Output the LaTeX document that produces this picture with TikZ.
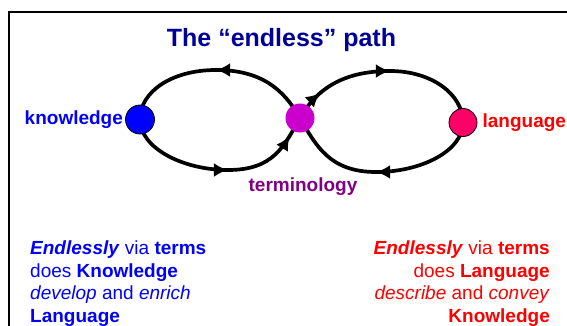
\documentclass[tikz,border=0pt]{standalone}
\usepackage{fontspec}
\setmainfont{Liberation Sans}
\usetikzlibrary{arrows.meta,positioning,calc,backgrounds,decorations.markings}
\definecolor{titleblue}{RGB}{0,0,153}
\definecolor{knowblue}{RGB}{0,0,255}
\definecolor{termdot}{RGB}{204,0,204}
\definecolor{termtext}{RGB}{128,0,128}
\definecolor{langdot}{RGB}{255,0,102}
\definecolor{langred}{RGB}{255,0,0}
\tikzset{
  ball/.style={circle,minimum size=#1,inner sep=0pt},
  txt/.style={font=\fontsize{19}{23}\selectfont},
  lbl/.style={font=\fontsize{19}{23}\selectfont\bfseries},
  loopline/.style={line width=3.7pt},
  tipat/.style={postaction={decorate,decoration={markings,
    mark=at position #1 with {\arrow{Latex[length=14pt,width=14pt]}}}}}
}

\begin{document}
\begin{tikzpicture}[x=1pt,y=1pt]
    \useasboundingbox (0,0) rectangle (567,-326);
    \draw[line width=2pt] (9,-330) -- (9,-12) -- (570,-12);
    \node[font=\fontsize{25}{30}\selectfont\bfseries,text=titleblue,anchor=base] (title) at (281.5,-47) {The “endless” path};

    \node[ball=29pt,fill=knowblue,draw=black,line width=0.8pt] (know) at (140,-119.5) {};
    \node[ball=29pt,fill=termdot] (term) at (300,-118) {};
    \node[ball=28pt,fill=langdot,draw=black,line width=0.8pt] (lang) at (463,-122.5) {};

    \node[lbl,text=knowblue,anchor=east,inner sep=1pt] (knowlabel) at ([xshift=-1pt]know.west) {knowledge};
    \node[lbl,text=langred,anchor=west,inner sep=1pt] (langlabel) at ([xshift=4pt]lang.east) {language};
    \node[lbl,text=termtext,anchor=base] (termlabel) at (303,-191) {terminology};

    \begin{scope}[on background layer]
      \coordinate (lt) at (216,-70);
      \coordinate (lb) at (228,-170);
      \coordinate (rt) at (390,-71);
      \coordinate (rb) at (376,-172);
      \draw[loopline,tipat=0.999] (know.center) .. controls +(0,-28) and +(-46,0) .. (lb);
      \draw[loopline,tipat=0.78] (lb) .. controls +(46,0) and +(-16,-28) .. (term.center);
      \draw[loopline,tipat=0.3,tipat=0.999] (term.center) .. controls +(16,28) and +(-48,0) .. (rt);
      \draw[loopline] (rt) .. controls +(42,0) and +(0,28) .. (lang.center);
      \draw[loopline,tipat=0.999] (lang.center) .. controls +(0,-28) and +(46,0) .. (rb);
      \draw[loopline] (rb) .. controls +(-46,0) and +(16,-28) .. (term.center);
      \draw[loopline,tipat=0.999] (term.center) .. controls +(-16,28) and +(46,0) .. (lt);
      \draw[loopline] (lt) .. controls +(-44,0) and +(0,28) .. (know.center);
    \end{scope}

    \foreach \t [count=\i] in {
      {\textbf{\textit{Endlessly}} via \textbf{terms}},
      {does \textbf{Knowledge}},
      {\textit{develop} and \textit{enrich}},
      {\textbf{Language}}}
    {
      \node[txt,text=knowblue,anchor=base west,inner sep=0pt] (kl\i) at (30,{-232-22.5*\i}) {\t};
    }
    \foreach \t [count=\i] in {
      {\textbf{\textit{Endlessly}} via \textbf{terms}},
      {does \textbf{Language}},
      {\textit{describe} and \textit{convey}},
      {\textbf{Knowledge}}}
    {
      \node[txt,text=langred,anchor=base east,inner sep=0pt] (ll\i) at (550,{-232-22.5*\i}) {\t};
    }
\end{tikzpicture}
\end{document}
